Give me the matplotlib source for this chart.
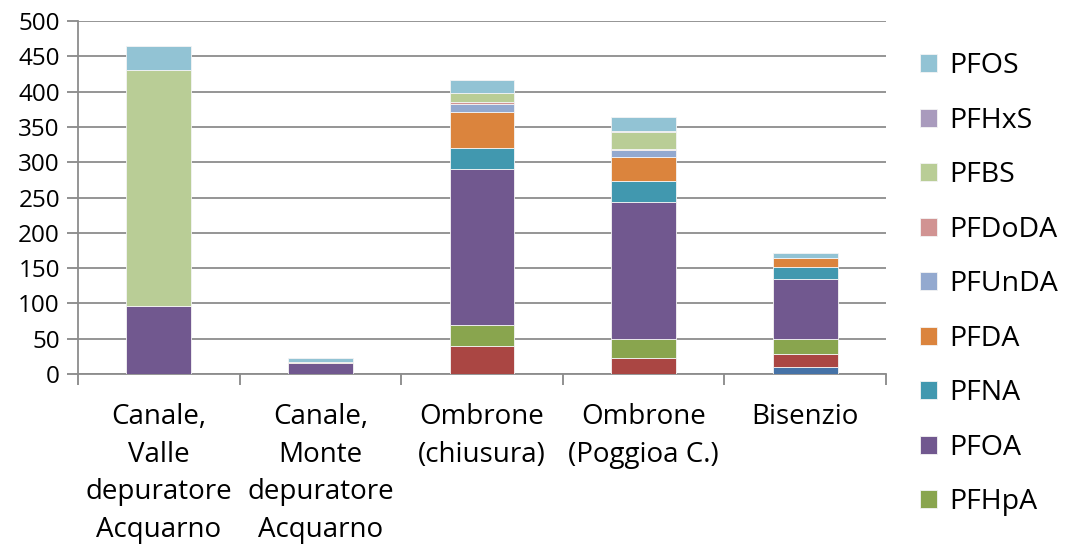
import numpy as np
import matplotlib
matplotlib.use("Agg")
import matplotlib.pyplot as plt

plt.rcParams['font.family'] = ['Open Sans', 'DejaVu Sans']

## categories and series values (bottom of the stack first)
siti = ['Canale,\nValle\ndepuratore\nAcquarno',
        'Canale,\nMonte\ndepuratore\nAcquarno',
        'Ombrone\n(chiusura)',
        'Ombrone\n(Poggioa C.)',
        'Bisenzio']

PFPeA  = [0, 0, 0, 0, 10]
PFHxA  = [0, 0, 40, 23, 18]
PFHpA  = [0, 0, 29, 27, 21]
PFOA   = [96, 15, 221, 193, 85]
PFNA   = [0, 0, 30, 30, 18]
PFDA   = [0, 1.5, 51, 35, 13]
PFUnDA = [0, 0, 12, 9, 0]
PFDoDA = [0, 0, 3, 2, 0]
PFBS   = [335, 0, 12, 24, 0]
PFHxS  = [0, 0, 0, 1, 0]
PFOS   = [34, 5.5, 18, 20, 6]

serie = [('PFPeA', PFPeA, '#4572A7'),
         ('PFHxA', PFHxA, '#AA4643'),
         ('PFHpA', PFHpA, '#89A54E'),
         ('PFOA', PFOA, '#71588F'),
         ('PFNA', PFNA, '#4198AF'),
         ('PFDA', PFDA, '#DB843D'),
         ('PFUnDA', PFUnDA, '#93A9CF'),
         ('PFDoDA', PFDoDA, '#D19392'),
         ('PFBS', PFBS, '#B9CD96'),
         ('PFHxS', PFHxS, '#A99BBD'),
         ('PFOS', PFOS, '#92C3D4')]

fig = plt.figure(figsize=(10.65, 5.46), dpi=100)
ax = fig.add_axes([0.0732, 0.315, 0.7588, 0.6465])

x = np.arange(len(siti))
base = np.zeros(len(siti))
handles = {}
for nome, val, col in serie:
    val = np.array(val, dtype=float)
    b = ax.bar(x, val, 0.4, bottom=base, color=col, edgecolor='#f4f4f4',
               linewidth=0.6, zorder=3)
    handles[nome] = b
    base = base + val

ax.set_xlim(-0.5, 4.5)
ax.set_ylim(0, 500)
ax.set_yticks(np.arange(0, 501, 50))
ax.set_xticks(x)
ax.set_xticklabels(siti, fontsize=20, linespacing=1.45)
ax.set_xticks(np.arange(-0.5, 4.6, 1), minor=True)
ax.tick_params(axis='x', which='major', length=0, pad=21)
ax.tick_params(axis='x', which='minor', length=8, color='#888888', width=1.3)
ax.tick_params(axis='y', length=8, color='#888888', width=1.3, labelsize=17.5, pad=5)

## grid
ax.grid(axis='y', color='#8c8c8c', linewidth=1.3, zorder=0)
ax.set_axisbelow(True)
for s in ['top', 'right']:
    ax.spines[s].set_visible(False)
for s in ['left', 'bottom']:
    ax.spines[s].set_color('#8c8c8c')
    ax.spines[s].set_linewidth(1.3)

## legend (PFOS on top)
ordine = ['PFOS', 'PFHxS', 'PFBS', 'PFDoDA', 'PFUnDA', 'PFDA', 'PFNA', 'PFOA', 'PFHpA']
fig.legend([handles[n] for n in ordine], ordine, loc='upper left',
           bbox_to_anchor=(0.853, 0.925), frameon=False, fontsize=20.5,
           handlelength=0.6, handleheight=0.6, handletextpad=0.45,
           labelspacing=0.93, borderaxespad=0)

fig.savefig('out.png', dpi=100)
